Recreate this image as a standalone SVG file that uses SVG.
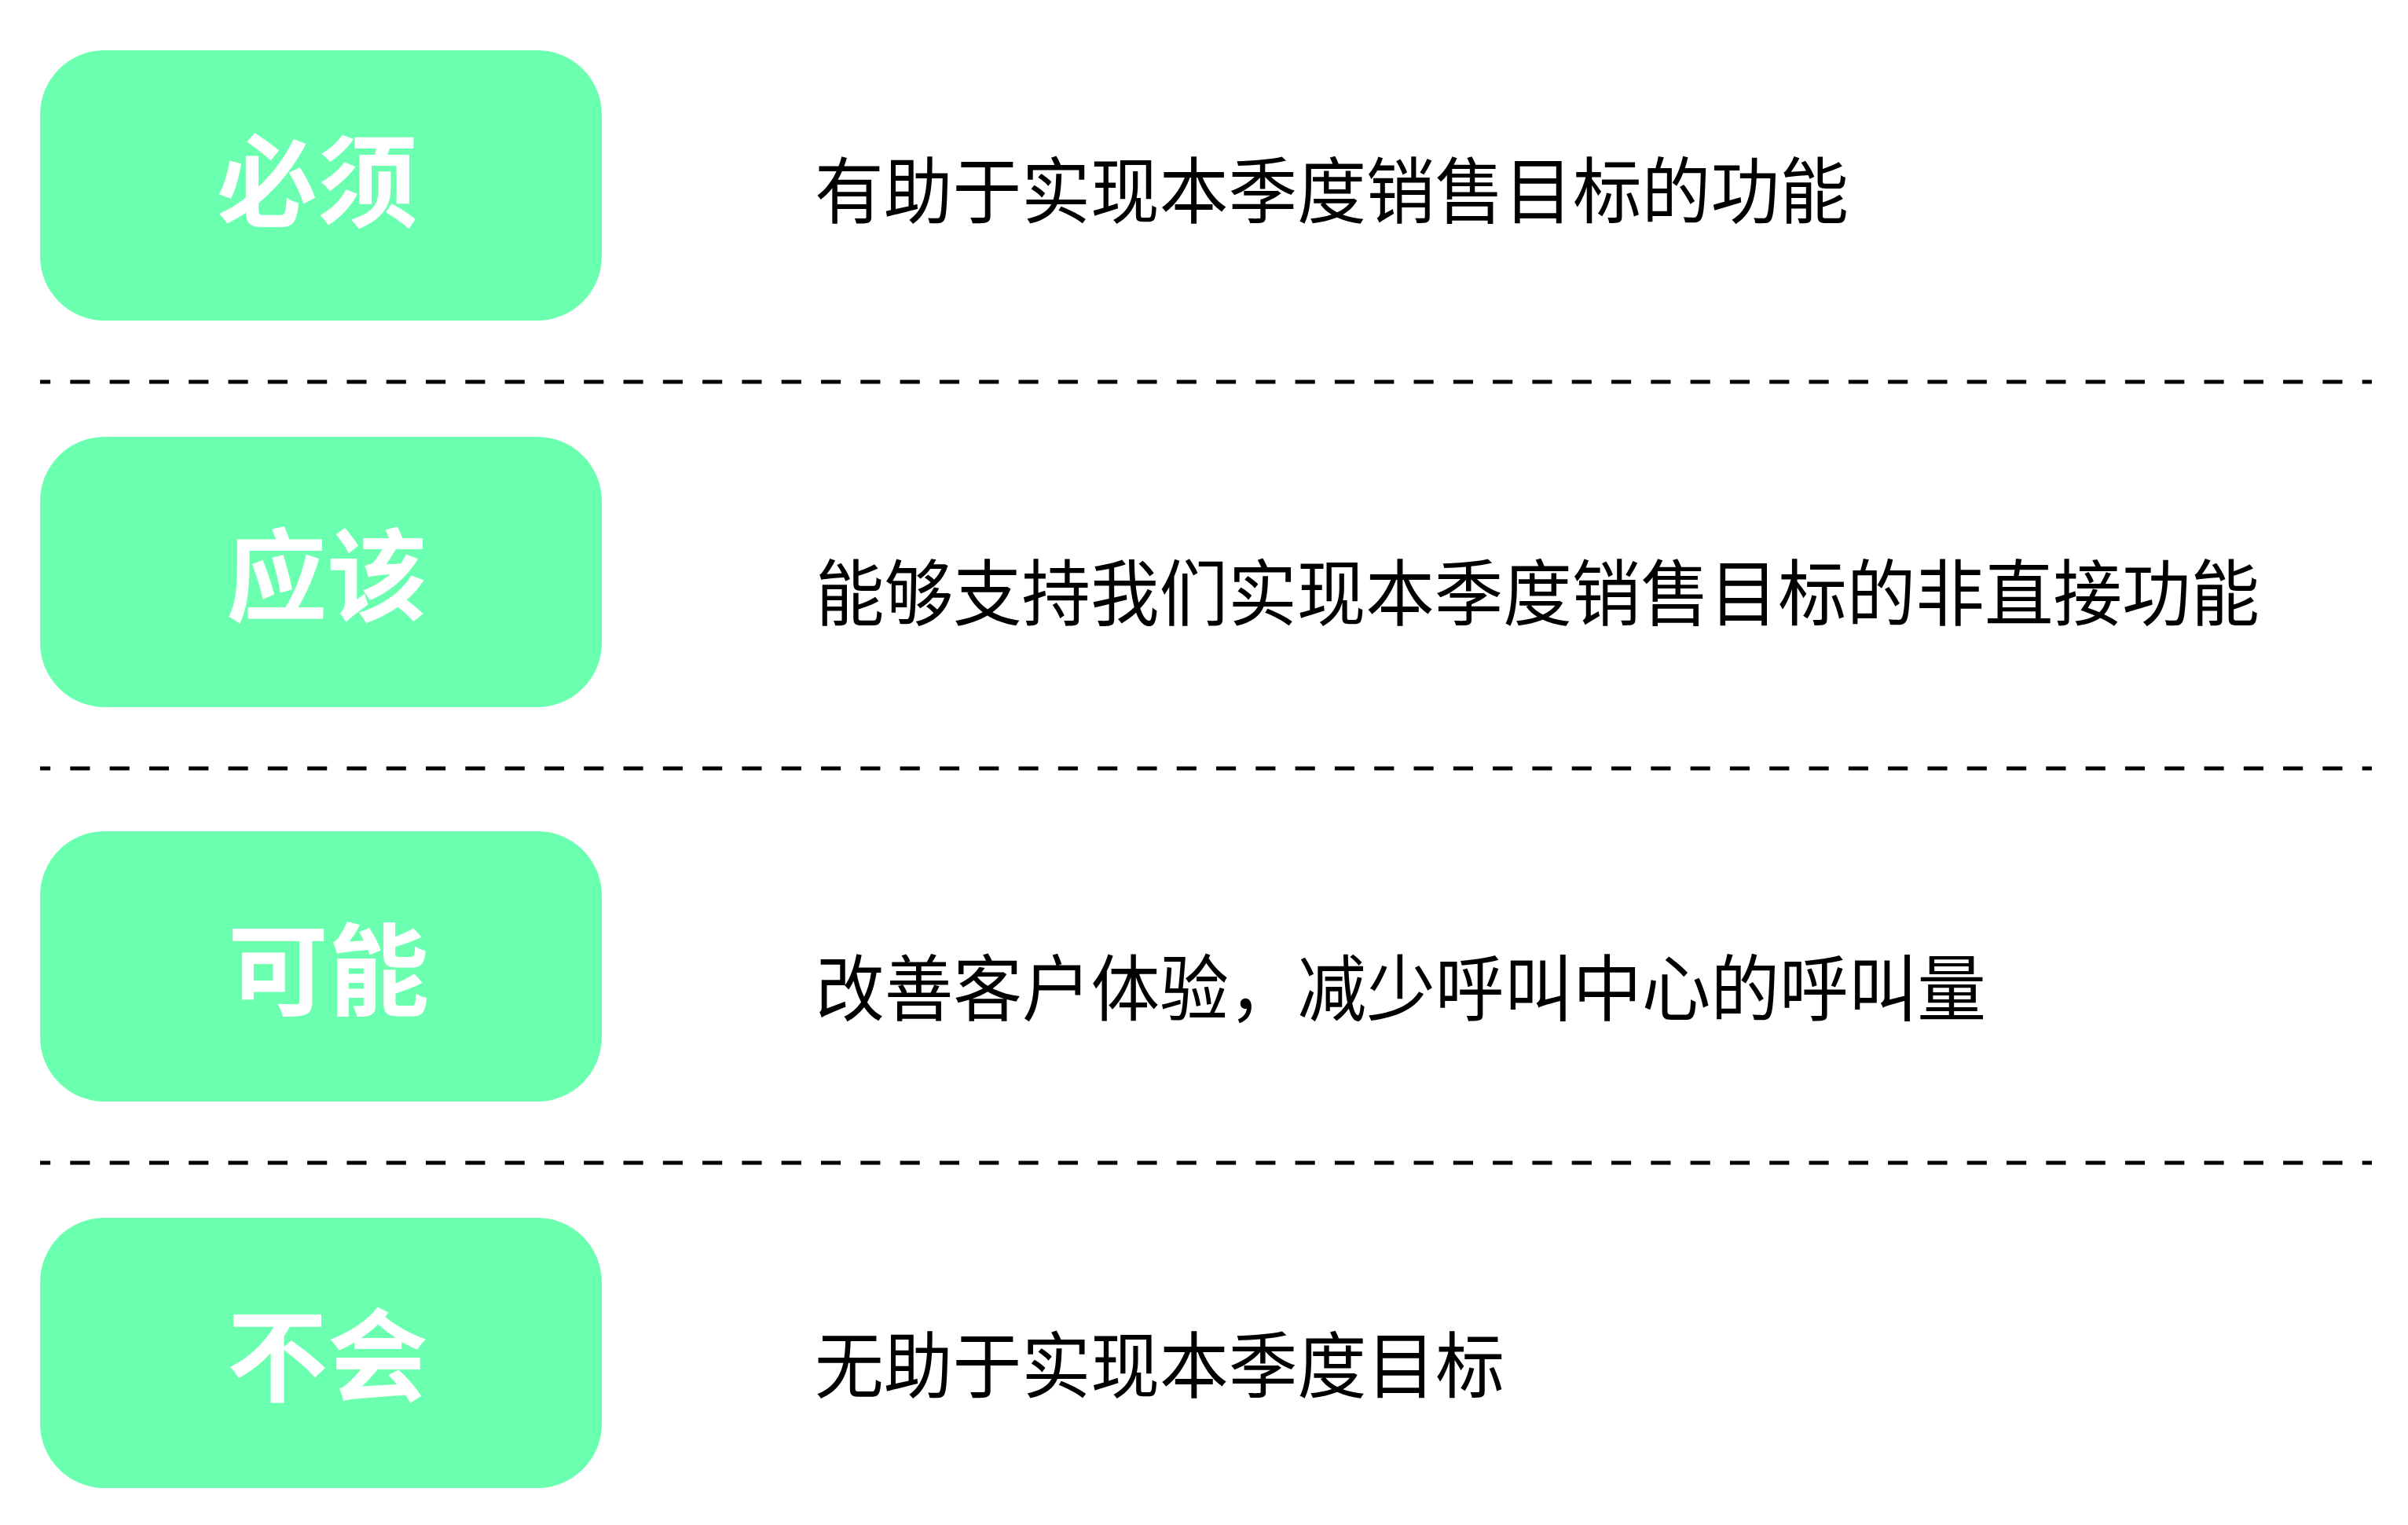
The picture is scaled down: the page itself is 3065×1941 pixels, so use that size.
<svg xmlns="http://www.w3.org/2000/svg" width="3065" height="1941" viewBox="0 0 3065 1941">
<style>
.box{fill:#6BFFB0;}
.lbl{font-family:"Noto Sans CJK SC","Noto Sans",sans-serif;font-weight:700;font-size:128px;fill:#FFFFFF;text-anchor:middle;}
.txt{font-family:"Noto Sans CJK SC","Noto Sans",sans-serif;font-weight:400;font-size:92px;fill:#000000;}
.sep{stroke:#000000;stroke-width:5;stroke-dasharray:25.15 25.15;stroke-dashoffset:12;fill:none;}
</style>
<rect width="3065" height="1941" fill="#FFFFFF"/>
<g id="separators">
<line class="sep" x1="51" y1="486" x2="3019" y2="486"/>
<line class="sep" x1="51" y1="978" x2="3019" y2="978"/>
<line class="sep" x1="51" y1="1480" x2="3019" y2="1480"/>
</g>
<g id="node-must">
<rect class="box" x="51" y="64" width="715" height="344" rx="82" ry="82"/>
<text class="lbl" x="404" y="279">必须</text>
<text class="txt" x="1037" y="277" textLength="1316" lengthAdjust="spacingAndGlyphs">有助于实现本季度销售目标的功能</text>
</g>
<g id="node-should">
<rect class="box" x="51" y="556" width="715" height="344" rx="82" ry="82"/>
<text class="lbl" x="416" y="781">应该</text>
<text class="txt" x="1038" y="789" textLength="1838" lengthAdjust="spacingAndGlyphs">能够支持我们实现本季度销售目标的非直接功能</text>
</g>
<g id="node-could">
<rect class="box" x="51" y="1058" width="715" height="344" rx="82" ry="82"/>
<text class="lbl" x="418" y="1283">可能</text>
<text class="txt" x="1038" y="1292" textLength="1490" lengthAdjust="spacingAndGlyphs">改善客户体验，减少呼叫中心的呼叫量</text>
</g>
<g id="node-wont">
<rect class="box" x="51" y="1550" width="715" height="344" rx="82" ry="82"/>
<text class="lbl" x="417" y="1774">不会</text>
<text class="txt" x="1037" y="1772" textLength="878" lengthAdjust="spacingAndGlyphs">无助于实现本季度目标</text>
</g>
</svg>
